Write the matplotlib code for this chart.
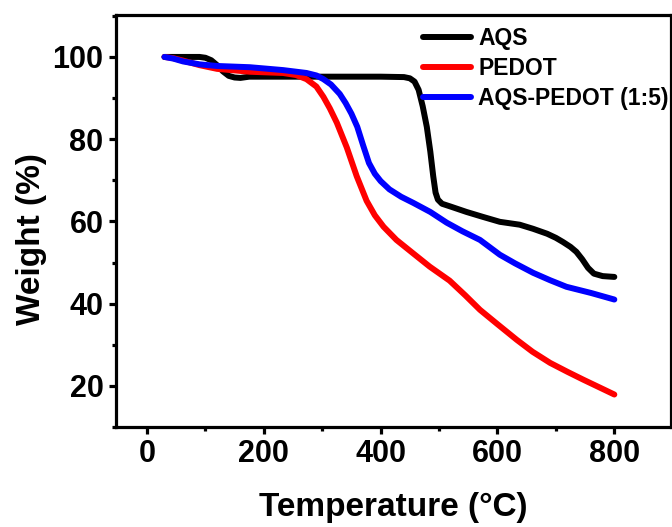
import matplotlib
matplotlib.use('Agg')
import matplotlib.pyplot as plt
from matplotlib.ticker import MultipleLocator

# TGA curves
aqs_T = [30, 60, 90, 100, 110, 120, 130, 140, 150, 160, 175, 200, 300, 400, 440, 450, 458, 465, 472,
         479, 485, 490, 494, 498, 505, 520, 547, 575, 604, 638, 661, 685, 700, 712, 725, 735, 745,
         755, 765, 780, 800]
aqs_W = [100, 100, 100, 99.8, 99.2, 98, 96.5, 95.4, 95, 94.9, 95.2, 95.2, 95.2, 95.2, 95.1, 94.8, 94,
         92, 88, 83, 77, 71, 67, 65.3, 64.3, 63.6, 62.3, 61.1, 59.9, 59.2, 58.2, 57, 56, 55, 53.8,
         52.6, 50.8, 48.7, 47.3, 46.7, 46.5]

pedot_T = [30, 45, 62, 90, 120, 176, 233, 255, 273, 290, 302, 313, 325, 342, 359, 376, 390, 405, 427,
           455, 484, 518, 545, 570, 600, 633, 660, 690, 720, 747, 775, 800]
pedot_W = [100, 99.7, 99.1, 98, 97.1, 96.4, 96.1, 95.6, 94.6, 92.8, 90.3, 87.5, 84, 78, 71, 65, 61.5,
           58.7, 55.5, 52.3, 49, 45.6, 42, 38.5, 35, 31.2, 28.3, 25.6, 23.4, 21.5, 19.6, 17.9]

mix_T = [30, 45, 62, 90, 120, 176, 233, 273, 290, 302, 315, 330, 340, 350, 360, 370, 380, 390, 400,
         415, 435, 456, 485, 513, 540, 570, 604, 630, 661, 690, 718, 760, 800]
mix_W = [100, 99.6, 98.9, 98.2, 97.8, 97.5, 96.8, 96.1, 95.5, 94.6, 93.3, 91, 88.8, 86.2, 83, 78.5,
         74.2, 71.6, 69.8, 67.8, 66, 64.5, 62.3, 59.7, 57.6, 55.5, 51.9, 49.8, 47.5, 45.7, 44.1,
         42.6, 41]

plt.rcParams['font.family'] = 'Liberation Sans'
plt.rcParams['font.weight'] = 'bold'

fig = plt.figure(figsize=(6.72, 5.27), dpi=100)
ax = fig.add_axes([116 / 672, 1 - 427 / 527, (671 - 116) / 672, (427 - 15) / 527])

style = dict(lw=4.3, solid_capstyle='round', solid_joinstyle='round')
ax.plot(aqs_T, aqs_W, color='black', label='AQS', **style)
ax.plot(pedot_T, pedot_W, color='red', label='PEDOT', **style)
ax.plot(mix_T, mix_W, color='blue', label='AQS-PEDOT (1:5)', **style)

ax.set_xlim(-53, 897)
ax.set_ylim(10, 110.2)
ax.xaxis.set_major_locator(MultipleLocator(200))
ax.xaxis.set_minor_locator(MultipleLocator(100))
ax.yaxis.set_minor_locator(MultipleLocator(10))
ax.set_yticks([20, 40, 60, 80, 100])

for s in ax.spines.values():
    s.set_linewidth(2.3)
ax.tick_params(which='major', direction='out', length=5, width=2.3, labelsize=22, pad=4)
ax.tick_params(which='minor', direction='out', length=3, width=2.3)

ax.set_xlabel('Temperature (°C)', fontsize=24, fontweight='bold', labelpad=16)
ax.set_ylabel('Weight (%)', fontsize=24, fontweight='bold')
ax.yaxis.set_label_coords(-0.125, 0.456)

ax.legend(loc='upper left', bbox_to_anchor=(423 / 672, 1 - 27 / 527), bbox_transform=fig.transFigure,
          frameon=False, fontsize=16.5, handlelength=2.1, handletextpad=0.3, labelspacing=0.3,
          borderpad=0, borderaxespad=0)

fig.savefig('out.png', dpi=100)
